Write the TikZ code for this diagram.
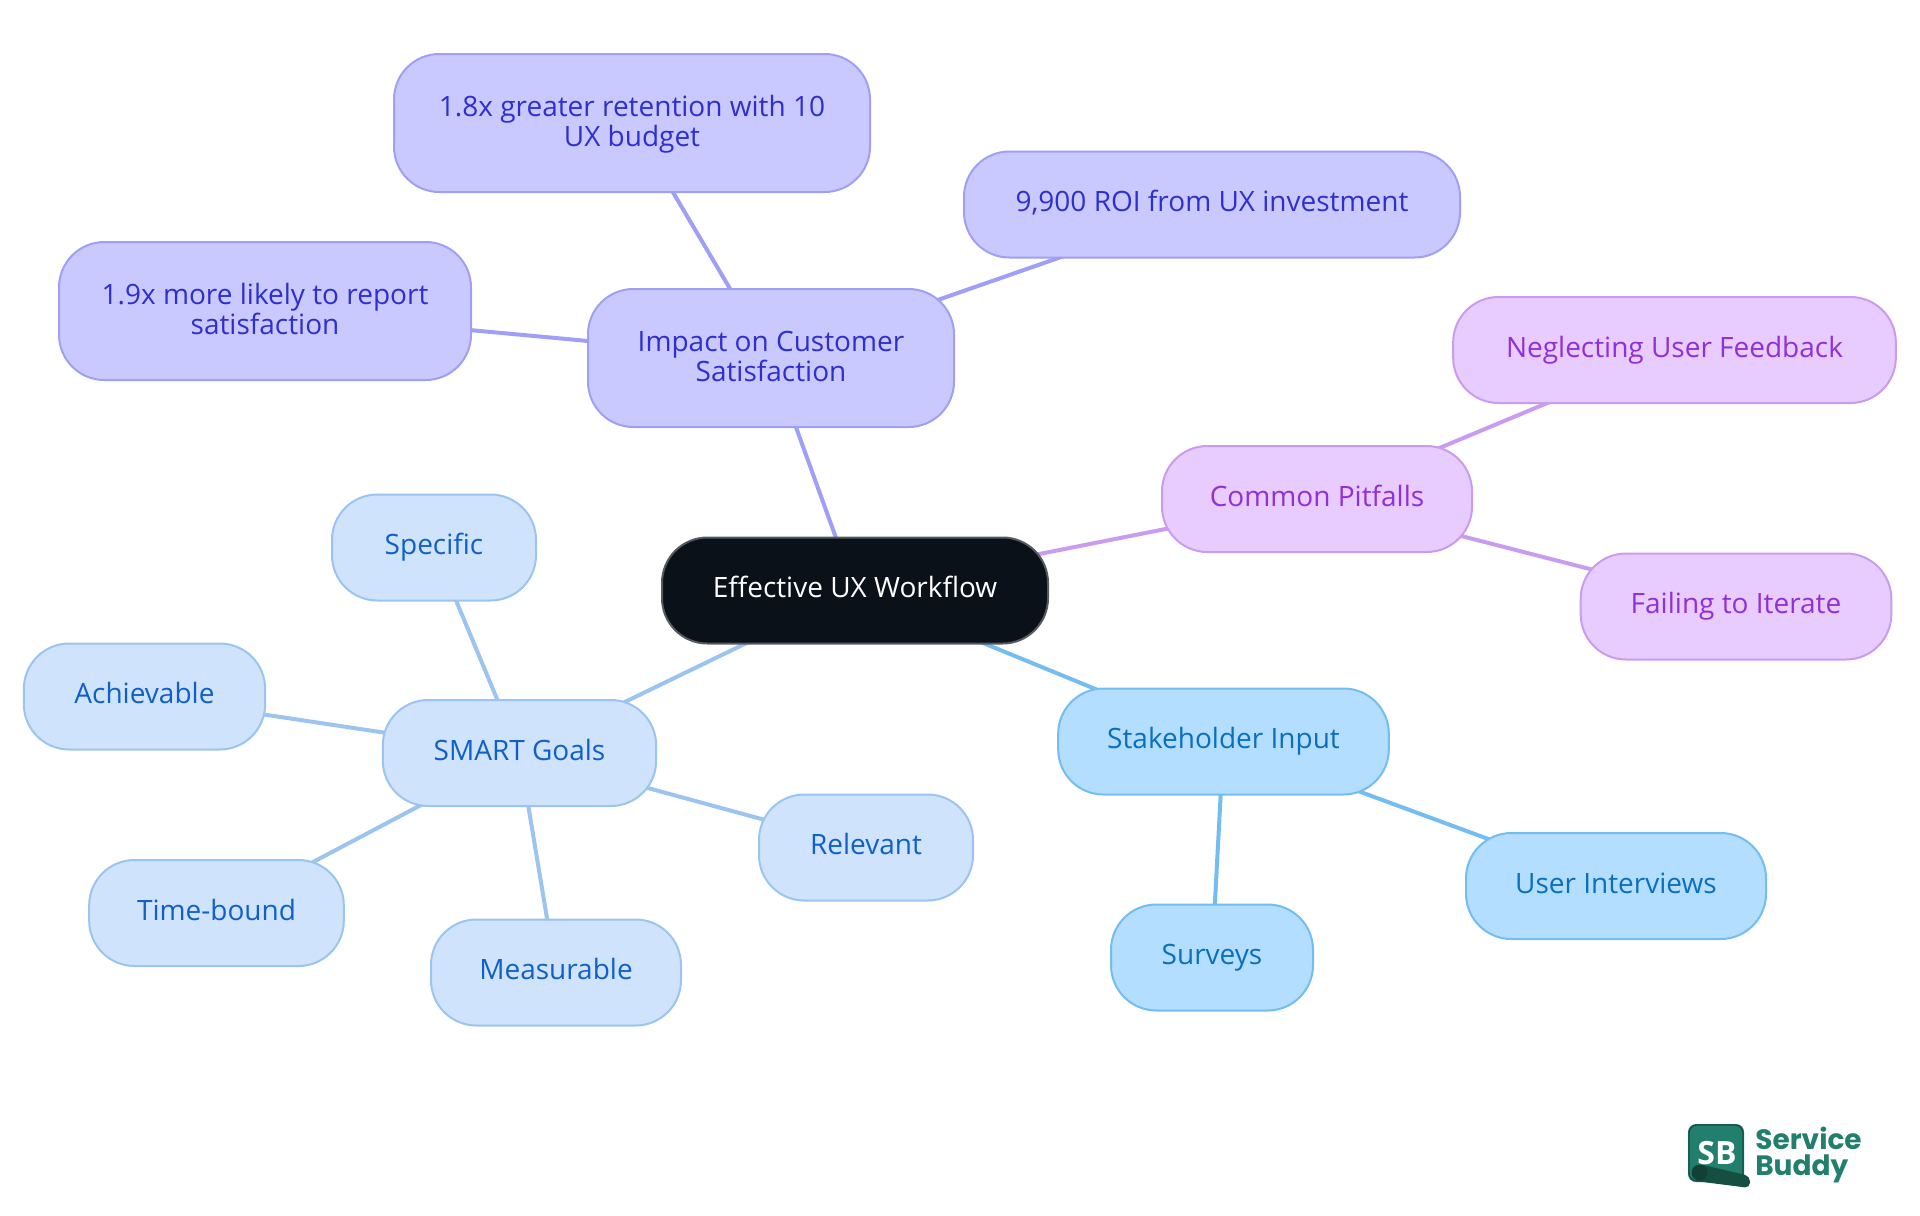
\documentclass[tikz,border=0pt]{standalone}
\usepackage{fontspec}
\setmainfont{Open Sans}
\newfontfamily\brandfont{Poppins}
\usetikzlibrary{backgrounds}
\definecolor{rootfill}{HTML}{0B1119}
\definecolor{rootline}{HTML}{555A60}
\definecolor{impactfill}{HTML}{C9C9FF}
\definecolor{impactline}{HTML}{9F9FF5}
\definecolor{impacttext}{HTML}{2F2FD0}
\definecolor{goalfill}{HTML}{CFE3FC}
\definecolor{goalline}{HTML}{9CC4F0}
\definecolor{goaltext}{HTML}{1060C8}
\definecolor{inputfill}{HTML}{B3DEFF}
\definecolor{inputline}{HTML}{74BDF0}
\definecolor{inputtext}{HTML}{0B6FBF}
\definecolor{pitfallfill}{HTML}{E8CBFF}
\definecolor{pitfallline}{HTML}{C99CF0}
\definecolor{pitfalltext}{HTML}{9030D8}
\definecolor{logogreen}{HTML}{237F6D}
\definecolor{logodark}{HTML}{154F42}
\definecolor{logoroll}{HTML}{123F36}
\tikzstyle{box} = [draw,rounded corners=34pt,line width=1.5pt,inner sep=0pt,align=center,minimum height=79.5pt,text height=15.5pt,text depth=4.5pt,font=\fontsize{21}{23}\selectfont]
\tikzstyle{twoline} = [minimum height=103.5pt,text height=40pt,text depth=4.5pt]
\tikzstyle{rootbox} = [box,fill=rootfill,draw=rootline,text=white]
\tikzstyle{impactbox} = [box,fill=impactfill,draw=impactline,text=impacttext]
\tikzstyle{goalbox} = [box,fill=goalfill,draw=goalline,text=goaltext]
\tikzstyle{inputbox} = [box,fill=inputfill,draw=inputline,text=inputtext]
\tikzstyle{pitfallbox} = [box,fill=pitfallfill,draw=pitfallline,text=pitfalltext]
\tikzstyle{edge} = [line width=3pt]
\begin{document}
\begin{tikzpicture}[x=0.75pt,y=-0.75pt]
        \useasboundingbox (0,0) rectangle (1920,1215);

        \node[rootbox, minimum width=289.5pt] at (855,590.5) (root) {Effective UX Workflow};

        \node[impactbox, twoline, minimum width=274.5pt] at (771,358) (impact) {Impact on Customer\\Satisfaction};
        \node[impactbox, twoline, minimum width=357pt] at (632,123) (retention) {1.8x greater retention with 10\\UX budget};
        \node[impactbox, minimum width=372pt] at (1212,204.5) (roi) {9,900 ROI from UX investment};
        \node[impactbox, twoline, minimum width=309pt] at (265,311) (likely) {1.9x more likely to report\\satisfaction};

        \node[pitfallbox, minimum width=232.5pt] at (1317,499) (pitfalls) {Common Pitfalls};
        \node[pitfallbox, minimum width=332pt] at (1674.5,350) (neglect) {Neglecting User Feedback};
        \node[pitfallbox, minimum width=233pt] at (1736,606.5) (failing) {Failing to Iterate};

        \node[inputbox, minimum width=248pt] at (1223.5,741.5) (stakeholder) {Stakeholder Input};
        \node[inputbox, minimum width=225pt] at (1616,886) (interviews) {User Interviews};
        \node[inputbox, minimum width=151.5pt] at (1212,957.5) (surveys) {Surveys};

        \node[goalbox, minimum width=205pt] at (519.5,753) (smart) {SMART Goals};
        \node[goalbox, minimum width=153pt] at (434,547.5) (specific) {Specific};
        \node[goalbox, minimum width=181pt] at (144.5,696.5) (achievable) {Achievable};
        \node[goalbox, minimum width=191pt] at (216.5,913) (timebound) {Time-bound};
        \node[goalbox, minimum width=187.5pt] at (556,972.5) (measurable) {Measurable};
        \node[goalbox, minimum width=160.5pt] at (866,847.5) (relevant) {Relevant};

        \begin{pgfonlayer}{background}
        \draw[edge, impactline] (root.center) -- (impact.center);
        \draw[edge, impactline] (impact.center) -- (retention.center);
        \draw[edge, impactline] (impact.center) -- (roi.center);
        \draw[edge, impactline] (impact.center) -- (likely.center);
        \draw[edge, pitfallline] (root.center) -- (pitfalls.center);
        \draw[edge, pitfallline] (pitfalls.center) -- (neglect.center);
        \draw[edge, pitfallline] (pitfalls.center) -- (failing.center);
        \draw[edge, inputline] (root.center) -- (stakeholder.center);
        \draw[edge, inputline] (stakeholder.center) -- (interviews.center);
        \draw[edge, inputline] (stakeholder.center) -- (surveys.center);
        \draw[edge, goalline] (root.center) -- (smart.center);
        \draw[edge, goalline] (smart.center) -- (specific.center);
        \draw[edge, goalline] (smart.center) -- (achievable.center);
        \draw[edge, goalline] (smart.center) -- (timebound.center);
        \draw[edge, goalline] (smart.center) -- (measurable.center);
        \draw[edge, goalline] (smart.center) -- (relevant.center);
        \end{pgfonlayer}

        \fill[logogreen, rounded corners=6pt] (1688,1124) rectangle (1744,1182);
        \draw[logodark, line width=1pt, rounded corners=6pt] (1689,1125) rectangle (1743,1181);
        \fill[logodark, rounded corners=4pt] (1699,1164) -- (1750,1176) -- (1750,1188) -- (1695,1181) -- cycle;
        \fill[logoroll] (1699.5,1172.5) circle [radius=8];
        \node[text=white, font=\fontsize{24}{24}\selectfont\bfseries, inner sep=0pt] at (1717,1153) (sb) {SB};
        \node[text=logogreen, font=\brandfont\fontsize{21}{20}\selectfont\bfseries, inner sep=0pt, align=left, anchor=west] at (1755,1155) (brand) {Service\\Buddy};
\end{tikzpicture}
\end{document}
